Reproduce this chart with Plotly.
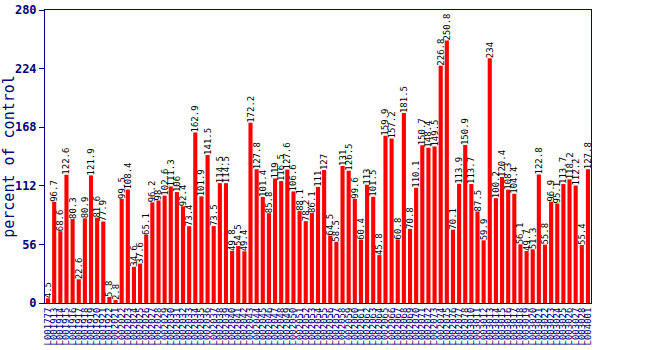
import plotly.graph_objects as go

labels = [
    "L001777", "L001913", "L001914", "L001915", "L001916", "L001917", "L001918", "L001919",
    "L001920", "L001921", "L001922", "L002021", "L002022", "L002023", "L002024", "L002025",
    "L002026", "L002027", "L002028", "L002029", "L002030", "L002031", "L002032", "L002033",
    "L002034", "L002035", "L002036", "L002037", "L002038", "L002039", "L002040", "L002041",
    "L002042", "L002043", "L002044", "L002045", "L002046", "L002047", "L002048", "L002049",
    "L002050", "L002051", "L002052", "L002053", "L002054", "L002055", "L002056", "L002057",
    "L002058", "L002059", "L002060", "L002061", "L002062", "L002063", "L002064", "L002065",
    "L002066", "L002067", "L002068", "L002069", "L002070", "L002071", "L002072", "L002073",
    "L002074", "L002075", "L002076", "L002077", "L002078", "L003010", "L003011", "L003012",
    "L003013", "L003014", "L003015", "L003016", "L003017", "L003018", "L003019", "L003020",
    "L003021", "L003022", "L003023", "L003024", "L003025", "L003026", "L003027", "L003028",
    "L004001",
]

values = [
    4.5, 96.7, 68.6, 122.6, 80.3, 22.6, 80.9, 121.9, 81.6, 77.9,
    5.8, 2.8, 99.5, 108.4, 34.6, 37.6, 65.1, 96.2, 98, 102.6,
    111.3, 106, 92.4, 73.4, 162.9, 101.9, 141.5, 73.5, 114.5, 114.5,
    49.8, 54.5, 49.4, 172.2, 127.8, 101.4, 85.8, 119, 116.5, 127.6,
    106.6, 88.1, 78.2, 86.1, 111, 127, 64.5, 58.5, 131, 126.5,
    99.6, 60.4, 113, 101.5, 45.8, 159.9, 157.2, 60.8, 181.5, 70.8,
    110.1, 150.7, 148.4, 149.5, 226.8, 250.8, 70.1, 113.9, 150.9, 113.7,
    87.5, 59.9, 234, 100.2, 120.4, 108.3, 104.4, 56.1, 49.7, 51.3,
    122.8, 55.8, 96.9, 95.1, 113.7, 118.2, 112.2, 55.4, 127.8,
]

y_ticks = [0, 56, 112, 168, 224, 280]

navy = "#000080"
mono = "DejaVu Sans Mono"

fig = go.Figure(
    go.Bar(
        x=labels,
        y=values,
        marker=dict(color="#ff0000", line=dict(width=0)),
        text=[f"{v:g}" for v in values],
        textposition="outside",
        textangle=-90,
        constraintext="none",
        cliponaxis=False,
        textfont=dict(family=mono, size=9, color="black"),
        hoverinfo="x+y",
    )
)

fig.update_layout(
    width=650,
    height=350,
    margin=dict(l=45, r=59, t=10, b=47, autoexpand=False),
    plot_bgcolor="white",
    paper_bgcolor="white",
    bargap=0.33,
    showlegend=False,
    font=dict(family=mono, color=navy),
)

fig.update_xaxes(
    type="category",
    tickmode="array",
    tickvals=labels,
    ticktext=labels,
    automargin=False,
    showline=True,
    linecolor=navy,
    linewidth=1,
    mirror=True,
    showgrid=False,
    ticks="",
    tickangle=-90,
    tickfont=dict(family=mono, size=9, color=navy),
)

fig.update_yaxes(
    range=[0, 280],
    tickvals=y_ticks,
    automargin=False,
    showline=True,
    linecolor=navy,
    linewidth=1,
    mirror=True,
    showgrid=False,
    zeroline=False,
    ticks="outside",
    ticklen=5,
    tickcolor=navy,
    tickfont=dict(family=mono, size=12, color=navy, weight="bold"),
    title=dict(text="percent of control", font=dict(family=mono, size=15, color=navy), standoff=6),
)

fig.write_html("out.html")
